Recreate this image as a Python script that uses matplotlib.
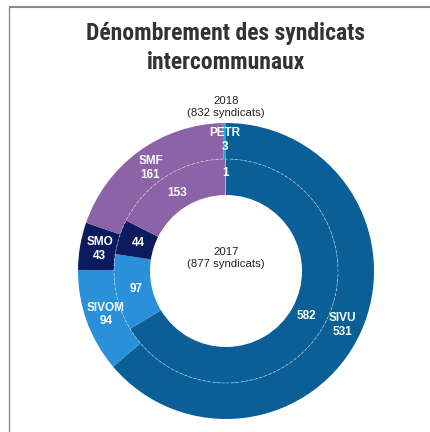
import matplotlib.pyplot as plt
import numpy as np
from matplotlib.patches import Circle

# data
categories = ["SIVU", "SIVOM", "SMO", "SMF", "PETR"]
values_2018 = [531, 94, 43, 161, 3]
values_2017 = [582, 97, 44, 153, 1]
colors = ["#0a6096", "#2a90d9", "#0c1a5e", "#8b63a6", "#1aaed6"]
colors_inner = ["#0a6096", "#2a90d9", "#0c1a5e", "#8b63a6", "#6cc6e2"]

title = "Dénombrement des syndicats\nintercommunaux"
outer_label = "2018\n(832 syndicats)"
inner_label = "2017\n(877 syndicats)"

W, H = 431, 432
cx, cy = 226, H - 271
R = 148
r_mid = 112
r_hole = 76

plt.rcParams['font.family'] = ['Liberation Sans', 'DejaVu Sans']

fig = plt.figure(figsize=(W / 100, H / 100), dpi=100)
ax = fig.add_axes([0, 0, 1, 1])

ax.pie(values_2018, radius=R, center=(cx, cy), colors=colors, startangle=90,
       counterclock=False, wedgeprops=dict(width=R - r_mid, linewidth=0))
ax.pie(values_2017, radius=r_mid, center=(cx, cy), colors=colors_inner, startangle=90,
       counterclock=False, wedgeprops=dict(width=r_mid - r_hole, linewidth=0))
ax.set_xlim(0, W)
ax.set_ylim(0, H)
ax.set_aspect('equal')
ax.axis('off')

# thin dashed separator between the rings
ax.add_patch(Circle((cx, cy), r_mid, fill=False, edgecolor="white", lw=0.5,
                    linestyle=(0, (4, 3)), alpha=0.6))


def mid_angles(vals):
    vals = np.array(vals, dtype=float)
    frac = vals / vals.sum() * 360
    ends = np.cumsum(frac)
    mids = ends - frac / 2
    return 90 - mids


# outer labels
for name, v, a in zip(categories, values_2018, mid_angles(values_2018)):
    rr = 128
    x = cx + rr * np.cos(np.radians(a))
    y = cy + rr * np.sin(np.radians(a))
    if name == "PETR":
        y = cy + 131
    ax.text(x, y, f"{name}\n{v}", color="white", fontsize=8.5, fontweight="bold",
            ha="center", va="center", linespacing=1.2)

# inner labels
for name, v, a in zip(categories, values_2017, mid_angles(values_2017)):
    rr = 92
    x = cx + rr * np.cos(np.radians(a))
    y = cy + rr * np.sin(np.radians(a))
    if name == "PETR":
        y = cy + 98
    ax.text(x, y, str(v), color="white", fontsize=8.5, fontweight="bold",
            ha="center", va="center")

ax.text(cx, H - 107, outer_label, ha="center", va="center", fontsize=8.2,
        color="#222222", linespacing=1.3)
ax.text(cx, H - 258, inner_label, ha="center", va="center", fontsize=8.2,
        color="#222222", linespacing=1.3)

fig.text(cx / W, 1 - 48 / H, title, ha="center", va="center", fontsize=17,
         fontweight="bold", color="#333333", linespacing=1.28,
         family=['Roboto Condensed', 'Archivo Narrow', 'PT Sans Narrow',
                 'Liberation Sans', 'DejaVu Sans'])

# frame lines
ax.plot([9, W], [H - 7, H - 7], color="#8a8a8a", lw=1.5, solid_capstyle="butt")
ax.plot([9, 9], [H - 7, 0], color="#8a8a8a", lw=1.0, solid_capstyle="butt")

plt.savefig("out.png", dpi=100)
